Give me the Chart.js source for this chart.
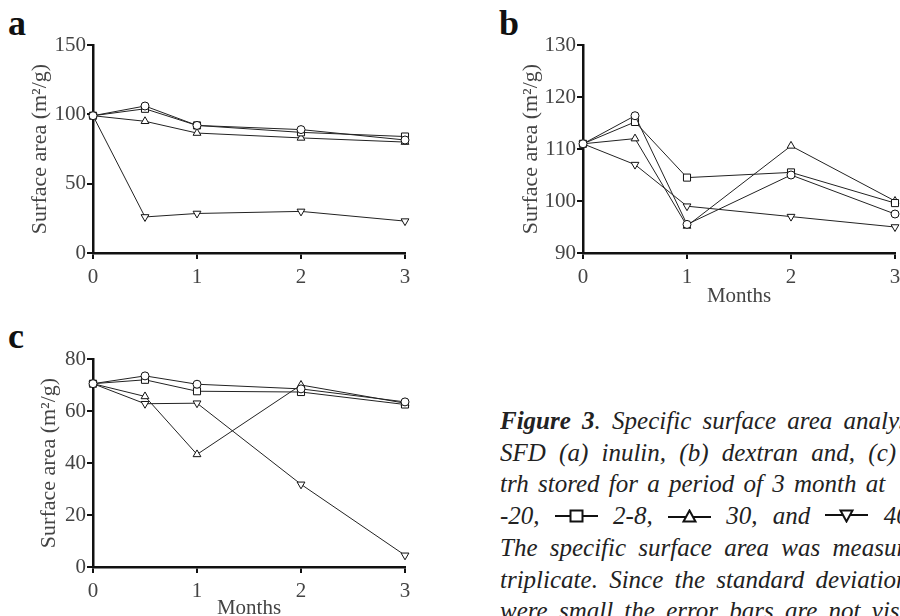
<!DOCTYPE html>
<html>
<head>
<meta charset="utf-8">
<script src="https://cdn.jsdelivr.net/npm/chart.js@4.4.1/dist/chart.umd.min.js"></script>
<style>
  body { margin: 0; width: 900px; height: 616px; overflow: hidden; background: #fff; position: relative; font-family: "Liberation Serif", serif; }
  canvas { position: absolute; }
  .lbl { position: absolute; font-weight: bold; font-size: 36px; line-height: 36px; color: #111; }
  .cap { position: absolute; left: 500px; top: 405px; width: 400px; overflow: hidden; font-style: italic; font-size: 25px; line-height: 31.7px; color: #222; white-space: nowrap; }
  .cap svg { vertical-align: 1px; }
  .warm { position: absolute; left: -1000px; top: 0; font-family: "Liberation Serif"; font-size: 21px; }
</style>
</head>
<body>

<div class="warm">Surface area 0123456789 Months</div>

<div class="lbl" style="left:8px; top:5px;">a</div>
<div class="lbl" style="left:499px; top:5px;">b</div>
<div class="lbl" style="left:8px; top:318px;">c</div>

<canvas id="chart_a" width="450" height="300" style="left:0; top:0;"></canvas>
<canvas id="chart_b" width="470" height="310" style="left:450px; top:0;"></canvas>
<canvas id="chart_c" width="450" height="305" style="left:0; top:316px;"></canvas>

<div class="cap">
  <div style="word-spacing:5px;"><b>Figure 3</b>. Specific surface area analysis of</div>
  <div style="word-spacing:7px;">SFD (a) inulin, (b) dextran and, (c) treha-</div>
  <div style="word-spacing:3px;">trh stored for a period of 3 month at</div>
  <div style="word-spacing:9px;">-20, <svg width="43" height="14"><line x1="0" y1="7" x2="43" y2="7" stroke="#111" stroke-width="2"/><rect x="15.5" y="1.5" width="12" height="11" fill="#fff" stroke="#111" stroke-width="2"/></svg> 2-8, <svg width="43" height="14"><line x1="0" y1="8" x2="43" y2="8" stroke="#111" stroke-width="2"/><polygon points="21.5,1.5 27.5,12.5 15.5,12.5" fill="#fff" stroke="#111" stroke-width="2"/></svg> 30, and <svg width="43" height="14"><line x1="0" y1="6" x2="43" y2="6" stroke="#111" stroke-width="2"/><polygon points="15.5,1.5 27.5,1.5 21.5,12.5" fill="#fff" stroke="#111" stroke-width="2"/></svg> 40 °C.</div>
  <div style="word-spacing:6px;">The specific surface area was measured in</div>
  <div style="word-spacing:5px;">triplicate. Since the standard deviations</div>
  <div style="word-spacing:5px;">were small the error bars are not visible.</div>
</div>

<script>
// storage time, months
const months = [0, 0.5, 1, 2, 3];
const tempLabels = ['-20', '2-8', '30', '40'];

// (a) inulin
const inulin_m20 = [99, 106, 92, 89, 81.5];
const inulin_2_8 = [99, 104, 92, 87, 84];
const inulin_30  = [99, 95, 86.5, 83, 80];
const inulin_40  = [99, 26, 28.5, 30, 23];

// (b) dextran
const dextran_m20 = [111, 116.4, 95.5, 105, 97.5];
const dextran_2_8 = [111, 115.2, 104.5, 105.5, 99.6];
const dextran_30  = [111, 112, 95.2, 110.6, 100];
const dextran_40  = [111, 107, 99, 97, 95];

// (c) trehalose
const treh_m20 = [70.5, 73.5, 70.3, 68.5, 63.5];
const treh_2_8 = [70.5, 72, 67.6, 67.3, 62.5];
const treh_30  = [70.5, 65.6, 43.3, 70, 63];
const treh_40  = [70.5, 62.8, 63, 31.8, 4.5];

const yTicks_a = [0, 50, 100, 150];
const yTicks_b = [90, 100, 110, 120, 130];
const yTicks_c = [0, 20, 40, 60, 80];
const xTicks = [0, 1, 2, 3];

const yTitle = 'Surface area (m\u00B2/g)';
const xTitle = 'Months';

const serif = "'Liberation Serif', serif";
Chart.defaults.font.family = serif;

const markers = [
  { pointStyle: 'circle', rotation: 0, radius: 4 },
  { pointStyle: 'rect', rotation: 0, radius: 5 },
  { pointStyle: 'triangle', rotation: 0, radius: 4.5 },
  { pointStyle: 'triangle', rotation: 180, radius: 4.5 },
];

function makeDatasets(seriesList) {
  return seriesList.map((vals, i) => ({
    label: tempLabels[i],
    data: vals.map((v, k) => ({ x: months[k], y: v })),
    borderColor: '#222',
    borderWidth: 1,
    backgroundColor: '#fff',
    pointBackgroundColor: '#fff',
    pointBorderColor: '#111',
    pointBorderWidth: 1,
    pointStyle: markers[i].pointStyle,
    rotation: markers[i].rotation,
    pointRadius: markers[i].radius,
    tension: 0,
    fill: false,
    clip: false,
  }));
}

function makePanel(id, seriesList, yTicks, p) {
  const ctx = document.getElementById(id);
  const axisColor = '#111';
  const tickFont = { family: serif, size: 21 };
  const config = {
    type: 'line',
    data: { datasets: makeDatasets(seriesList) },
    options: {
      responsive: false,
      animation: false,
      devicePixelRatio: 1,
      layout: { padding: { left: p.padLeft, top: p.padTop, right: p.padRight, bottom: 0 } },
      plugins: { legend: { display: false }, tooltip: { enabled: false } },
      scales: {
        x: {
          type: 'linear',
          min: xTicks[0],
          max: xTicks[xTicks.length - 1],
          afterBuildTicks: (s) => { s.ticks = xTicks.map(v => ({ value: v })); },
          afterFit: (s) => { s.height = p.xHeight; },
          ticks: { font: tickFont, color: '#444', padding: 6, maxRotation: 0 },
          grid: { drawOnChartArea: false, drawTicks: true, tickLength: 6, color: axisColor, lineWidth: 2 },
          border: { display: true, color: axisColor, width: 2.5 },
          title: {
            display: p.showMonths,
            text: xTitle,
            color: '#444',
            font: { family: serif, size: 21 },
            padding: { top: 0, bottom: p.monthsPad },
          },
        },
        y: {
          type: 'linear',
          min: yTicks[0],
          max: yTicks[yTicks.length - 1],
          afterBuildTicks: (s) => { s.ticks = yTicks.map(v => ({ value: v })); },
          afterFit: (s) => { s.width = p.yWidth; },
          ticks: { font: tickFont, color: '#444', padding: 1 },
          grid: { drawOnChartArea: false, drawTicks: true, tickLength: 6, color: axisColor, lineWidth: 2 },
          border: { display: true, color: axisColor, width: 2.5 },
          title: {
            display: true,
            text: yTitle,
            color: '#444',
            font: { family: serif, size: 22 },
            padding: { top: 0, bottom: 0 },
          },
        },
      },
    },
  };
  return new Chart(ctx, config);
}

function drawAll() {
  makePanel('chart_a', [inulin_m20, inulin_2_8, inulin_30, inulin_40], yTicks_a,
    { padLeft: 27, padTop: 45, padRight: 45, yWidth: 66, xHeight: 47, showMonths: false, monthsPad: 0 });
  makePanel('chart_b', [dextran_m20, dextran_2_8, dextran_30, dextran_40], yTicks_b,
    { padLeft: 68, padTop: 45, padRight: 25, yWidth: 65, xHeight: 57, showMonths: true, monthsPad: 1 });
  makePanel('chart_c', [treh_m20, treh_2_8, treh_30, treh_40], yTicks_c,
    { padLeft: 36, padTop: 43, padRight: 45, yWidth: 57, xHeight: 54, showMonths: true, monthsPad: 0 });
}

window.addEventListener('load', () => {
  document.fonts.load("21px 'Liberation Serif'").then(drawAll, drawAll);
});
</script>
</body>
</html>
